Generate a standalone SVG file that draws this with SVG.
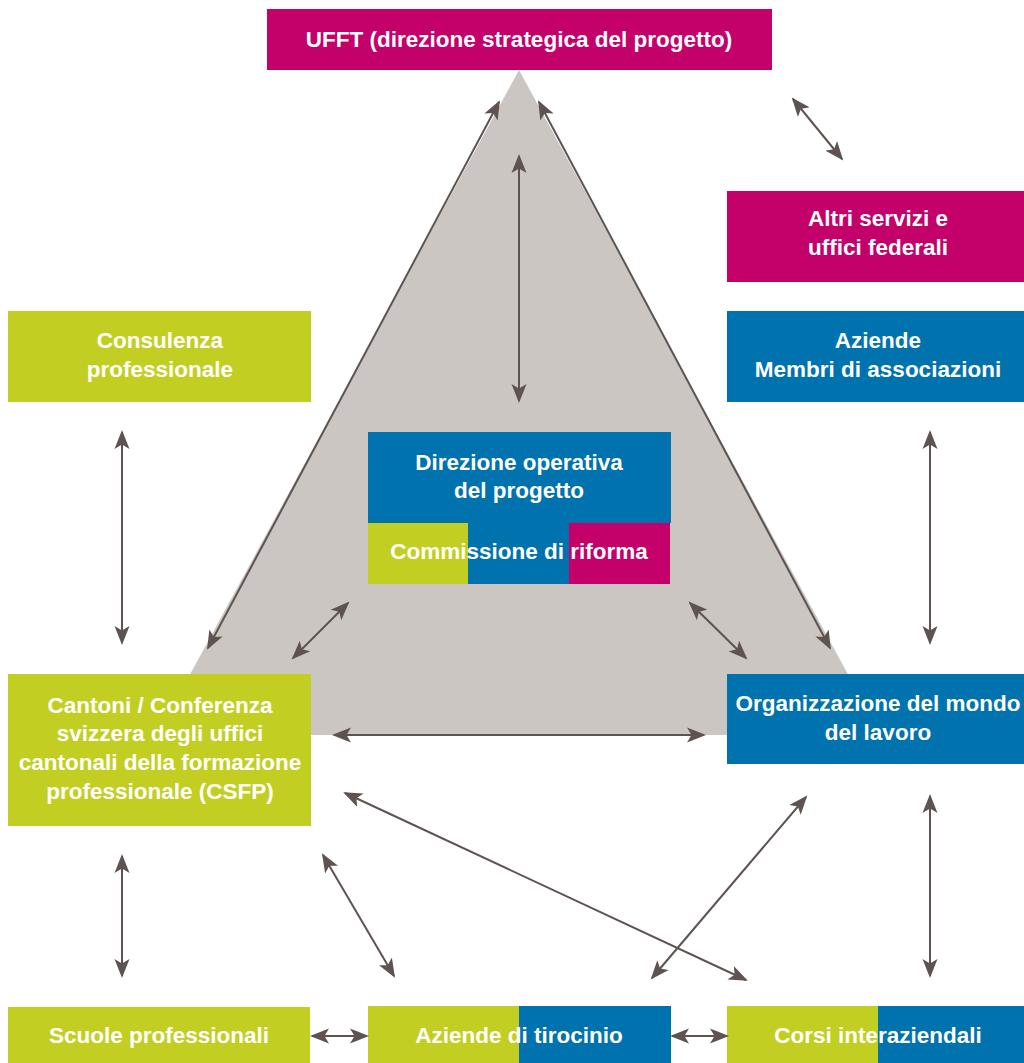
<svg xmlns="http://www.w3.org/2000/svg" width="1024" height="1063" viewBox="0 0 1024 1063">
<defs>
<style>
.m{fill:#C4006B}.b{fill:#0072AE}.g{fill:#C2CF22}
text{font-family:"Liberation Sans",Arial,sans-serif;font-weight:bold;font-size:22.5px;fill:#fff;text-anchor:middle}
.c line{stroke:#5E5350;stroke-width:2;marker-start:url(#ah);marker-end:url(#ah)}
</style>
<marker id="ah" markerUnits="userSpaceOnUse" markerWidth="20" markerHeight="16" refX="17" refY="7.5" orient="auto-start-reverse" viewBox="0 0 20 15">
<path d="M0,0 L19,7.5 L0,15 L4.5,7.5 Z" fill="#5E5350"/>
</marker>
</defs>
<rect width="1024" height="1063" fill="#fff"/>
<polygon id="triangle" points="519,70 157,735 881,735" fill="#CBC6C2"/>
<g id="ufft"><rect class="m" x="267" y="9" width="505" height="61"/><text x="519" y="47">UFFT (direzione strategica del progetto)</text></g>
<g id="altri"><rect class="m" x="727" y="191" width="297" height="91"/><text x="878" y="226">Altri servizi e</text><text x="878" y="255">uffici federali</text></g>
<g id="aziende-membri"><rect class="b" x="727" y="311" width="297" height="91"/><text x="878" y="348">Aziende</text><text x="878" y="377">Membri di associazioni</text></g>
<g id="consulenza"><rect class="g" x="8" y="311" width="303" height="91"/><text x="160" y="348">Consulenza</text><text x="160" y="377">professionale</text></g>
<g id="direzione-operativa"><rect class="b" x="368" y="432" width="303" height="91"/><text x="519" y="470">Direzione operativa</text><text x="519" y="498">del progetto</text></g>
<g id="commissione"><rect class="g" x="368" y="523" width="100" height="61"/><rect class="b" x="468" y="523" width="101" height="61"/><rect class="m" x="569" y="523" width="101" height="61"/><text x="519" y="559">Commissione di riforma</text></g>
<g id="cantoni"><rect class="g" x="8" y="674" width="303" height="152"/><text x="160" y="713">Cantoni / Conferenza</text><text x="160" y="741">svizzera degli uffici</text><text x="160" y="770">cantonali della formazione</text><text x="160" y="799">professionale (CSFP)</text></g>
<g id="organizzazione"><rect class="b" x="727" y="674" width="297" height="90"/><text x="878" y="711">Organizzazione del mondo</text><text x="878" y="740">del lavoro</text></g>
<g id="scuole"><rect class="g" x="8" y="1007" width="302" height="56"/><text x="159" y="1043">Scuole professionali</text></g>
<g id="aziende-tirocinio"><rect class="g" x="368" y="1006" width="151" height="57"/><rect class="b" x="519" y="1006" width="152" height="57"/><text x="519" y="1043">Aziende di tirocinio</text></g>
<g id="corsi"><rect class="g" x="727" y="1006" width="151" height="57"/><rect class="b" x="878" y="1006" width="146" height="57"/><text x="878" y="1043">Corsi interaziendali</text></g>
<g class="c" id="connectors">
<line x1="499" y1="102" x2="208" y2="648"/>
<line x1="539" y1="102" x2="830" y2="648"/>
<line x1="519" y1="156" x2="519" y2="401"/>
<line x1="793" y1="99" x2="842" y2="159"/>
<line x1="122" y1="432" x2="122" y2="643"/>
<line x1="930" y1="432" x2="930" y2="643"/>
<line x1="348" y1="603" x2="293" y2="658"/>
<line x1="690" y1="603" x2="746" y2="658"/>
<line x1="334" y1="735" x2="704" y2="735"/>
<line x1="122" y1="856" x2="122" y2="976"/>
<line x1="930" y1="796" x2="930" y2="976"/>
<line x1="323" y1="855" x2="394" y2="976"/>
<line x1="345" y1="793" x2="746" y2="980"/>
<line x1="806" y1="797" x2="652" y2="978"/>
<line x1="312" y1="1036" x2="367" y2="1036"/>
<line x1="672" y1="1036" x2="727" y2="1036"/>
</g>
</svg>
